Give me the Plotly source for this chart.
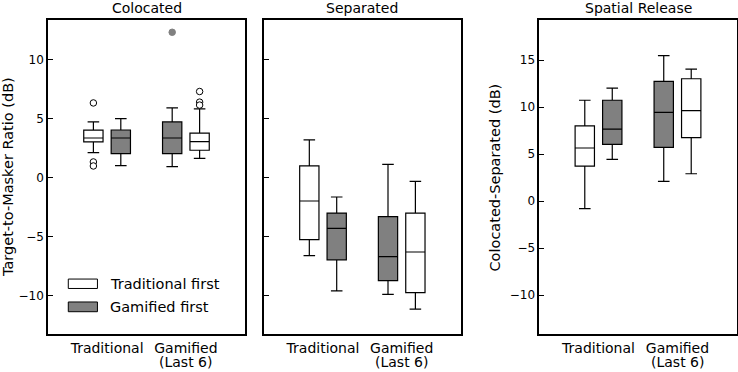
import plotly.graph_objects as go

# ---------------- data ----------------
categories = ["Traditional", "Gamified"]
category_sublabels = ["", "(Last 6)"]
panel_titles = ["Colocated", "Separated", "Spatial Release"]
y_titles = ["Target-to-Masker Ratio (dB)", "", "Colocated-Separated (dB)"]
group_names = ["Traditional first", "Gamified first"]

# box stats per category: [lowerfence, q1, median, q3, upperfence]
colocated_traditional_first = [[2.12, 3.03, 3.36, 4.02, 4.72], [1.64, 2.32, 3.05, 3.78, 5.83]]
colocated_gamified_first = [[1.02, 2.03, 3.36, 4.04, 5.00], [0.93, 2.03, 3.36, 4.72, 5.91]]
separated_traditional_first = [[-6.60, -5.26, -1.98, 1.00, 3.20], [-11.15, -9.74, -6.30, -3.00, -0.31]]
separated_gamified_first = [[-9.60, -6.96, -4.30, -3.00, -1.64], [-9.90, -8.72, -6.70, -3.30, 1.12]]
release_traditional_first = [[-0.80, 3.72, 5.64, 7.99, 10.72], [2.90, 6.74, 9.61, 13.01, 14.04]]
release_gamified_first = [[4.43, 6.03, 7.64, 10.72, 12.02], [2.09, 5.71, 9.43, 12.73, 15.46]]

# outliers per category
colocated_traditional_first_out = [[6.33, 1.33, 0.99], [7.30, 6.40, 6.15]]
colocated_gamified_first_out = [[], [12.32]]
separated_traditional_first_out = [[], []]
separated_gamified_first_out = [[], []]
release_traditional_first_out = [[], []]
release_gamified_first_out = [[], []]

panel_stats = [
    [colocated_traditional_first, colocated_gamified_first],
    [separated_traditional_first, separated_gamified_first],
    [release_traditional_first, release_gamified_first],
]
panel_outliers = [
    [colocated_traditional_first_out, colocated_gamified_first_out],
    [separated_traditional_first_out, separated_gamified_first_out],
    [release_traditional_first_out, release_gamified_first_out],
]
# which group sits on the left inside each category
left_group = ["Traditional first", "Gamified first"]

y_ticks = [[-10, -5, 0, 5, 10], [-10, -5, 0, 5, 10], [-10, -5, 0, 5, 10, 15]]

# ---------------- styling ----------------
W, H = 738, 372
FONT = "DejaVu Sans, Verdana, sans-serif"
GRAY = "#808080"
fills = ["white", GRAY]
out_fill = ["white", GRAY]
out_line = ["black", GRAY]
offset = 0.174
box_w = 0.245
x_range = [-0.75, 1.75]
y_ranges = [[-13.25, 13.36], [-13.25, 13.36], [-14.15, 19.26]]
dom_px = [(48, 245), (264, 460.7), (539.3, 736.7)]
M_T, M_B = 20, 38
plot_h = H - M_T - M_B
TXT = 14

fig = go.Figure()

for p in range(3):
    xa = "x" if p == 0 else f"x{p+1}"
    ya = "y" if p == 0 else f"y{p+1}"
    for g, gname in enumerate(group_names):
        stats = panel_stats[p][g]
        xs = []
        for ci, cat in enumerate(categories):
            side = -1 if left_group[ci] == gname else 1
            xs.append(ci + side * offset)
        fig.add_trace(go.Box(
            x=xs,
            lowerfence=[s[0] for s in stats],
            q1=[s[1] for s in stats],
            median=[s[2] for s in stats],
            q3=[s[3] for s in stats],
            upperfence=[s[4] for s in stats],
            orientation="v",
            width=box_w,
            whiskerwidth=0.6,
            fillcolor=fills[g],
            line=dict(color="black", width=1.2),
            boxpoints=False,
            xaxis=xa, yaxis=ya,
            showlegend=False,
            name=gname,
        ))
        ox, oy = [], []
        for ci, vals in enumerate(panel_outliers[p][g]):
            for v in vals:
                ox.append(xs[ci])
                oy.append(v)
        if ox:
            fig.add_trace(go.Scatter(
                x=ox, y=oy, mode="markers",
                marker=dict(size=6.5, color=out_fill[g],
                            line=dict(color=out_line[g], width=1)),
                xaxis=xa, yaxis=ya, showlegend=False,
            ))

layout = dict(
    width=W, height=H,
    margin=dict(l=0, r=0, t=M_T, b=M_B),
    paper_bgcolor="white", plot_bgcolor="white",
    font=dict(family=FONT, color="black"),
    showlegend=False,
)

annotations = []
shapes = []
for p in range(3):
    xk = "xaxis" if p == 0 else f"xaxis{p+1}"
    yk = "yaxis" if p == 0 else f"yaxis{p+1}"
    xa = "x" if p == 0 else f"x{p+1}"
    ya = "y" if p == 0 else f"y{p+1}"
    d0, d1 = dom_px[p][0] / W, dom_px[p][1] / W
    layout[xk] = dict(
        domain=[d0, d1], range=x_range, anchor=ya,
        tickvals=list(range(len(categories))), ticktext=categories,
        ticks="", showgrid=False, zeroline=False,
        showline=True, mirror=True, linecolor="black", linewidth=1.5,
        tickfont=dict(size=TXT, family=FONT), automargin=False,
    )
    layout[yk] = dict(
        domain=[0, 1], range=y_ranges[p], anchor=xa,
        tickvals=y_ticks[p], ticks="inside", ticklen=5, tickwidth=1.2,
        tickcolor="black", showticklabels=(p != 1),
        showgrid=False, zeroline=False,
        showline=True, mirror=True, linecolor="black", linewidth=1.5,
        tickfont=dict(size=12, family=FONT), automargin=False,
    )
    # panel title
    annotations.append(dict(
        text=panel_titles[p], xref="paper", yref="paper",
        x=(d0 + d1) / 2, y=1 + 12 / plot_h, xanchor="center", yanchor="middle",
        showarrow=False, font=dict(size=TXT, family=FONT),
    ))
    # second line of category labels
    for ci, sub in enumerate(category_sublabels):
        if sub:
            annotations.append(dict(
                text=sub, xref=xa, yref="paper", x=ci,
                y=-(362 - (H - M_B)) / plot_h, xanchor="center", yanchor="middle",
                showarrow=False, font=dict(size=TXT, family=FONT),
            ))

# y-axis titles
annotations.append(dict(
    text=y_titles[0], xref="paper", yref="paper", x=8 / W, y=0.5,
    xanchor="center", yanchor="middle", textangle=-90, showarrow=False,
    font=dict(size=14.5, family=FONT),
))
annotations.append(dict(
    text=y_titles[2], xref="paper", yref="paper", x=494.5 / W, y=0.5,
    xanchor="center", yanchor="middle", textangle=-90, showarrow=False,
    font=dict(size=14.5, family=FONT),
))

# legend (drawn inside first panel)
leg_rows = [(0.175, 0.145), (0.102, 0.071)]
for g, gname in enumerate(group_names):
    y0, y1 = leg_rows[g]
    shapes.append(dict(
        type="rect", xref="x domain", yref="y domain",
        x0=0.103, x1=0.251, y0=y1, y1=y0,
        fillcolor=fills[g], line=dict(color="black", width=1),
    ))
    annotations.append(dict(
        text=gname, xref="x domain", yref="y domain",
        x=0.306, y=(y0 + y1) / 2, xanchor="left", yanchor="middle",
        showarrow=False, font=dict(size=14.5, family=FONT),
    ))

layout["annotations"] = annotations
layout["shapes"] = shapes
fig.update_layout(**layout)
fig.write_html(
    "out.html",
    config={"displayModeBar": False},
    post_script="document.body.style.margin='0px';document.body.style.padding='0px';",
)
